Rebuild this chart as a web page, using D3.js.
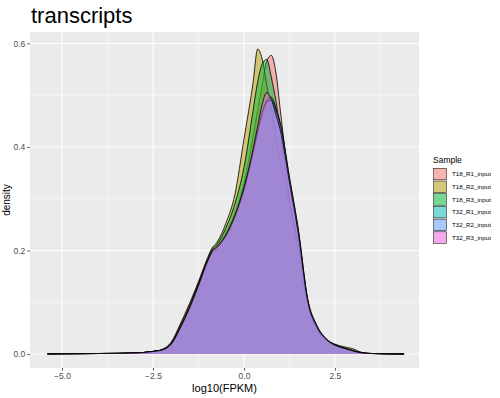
<!DOCTYPE html>
<html>
<head>
<meta charset="utf-8">
<script src="https://cdn.jsdelivr.net/npm/d3@7"></script>
<style>
  html, body { margin: 0; padding: 0; background: #ffffff; }
  svg { display: block; }
  text { font-family: "Liberation Sans", Arial, Helvetica, sans-serif; }
</style>
</head>
<body>
<svg id="chart" width="500" height="398"></svg>
<script>
// ---- data ----
const sampleNames = ["T18_R1_input", "T18_R2_input", "T18_R3_input", "T32_R1_input", "T32_R2_input", "T32_R3_input"];
const sampleColors = ["#F8766D", "#B79F00", "#00BA38", "#00BFC4", "#619CFF", "#F564E3"];

const xGrid = [-5.4, -5, -4.5, -4, -3.5, -3, -2.75, -2.5, -2.25, -2, -1.75, -1.5, -1.25, -1, -0.875, -0.75, -0.5, -0.25,
  0, 0.25, 0.375, 0.5, 0.625, 0.75, 0.875, 1, 1.25, 1.5, 1.75, 2, 2.25, 2.5, 2.75, 3, 3.25, 3.5, 4, 4.4];

const densT18R1 = [0.0003, 0.0005, 0.0007, 0.001, 0.0013, 0.002, 0.003, 0.005, 0.008, 0.020,
  0.052, 0.090, 0.134, 0.180, 0.198, 0.207, 0.232, 0.272,
  0.33, 0.42, 0.47, 0.52, 0.565, 0.577, 0.545, 0.47,
  0.325, 0.228, 0.100, 0.050, 0.027, 0.017, 0.011, 0.006, 0.002, 0.001, 0.0004, 0.0002];
const densT18R2 = [0.0003, 0.0005, 0.0007, 0.001, 0.0013, 0.002, 0.003, 0.005, 0.009, 0.023,
  0.058, 0.097, 0.140, 0.186, 0.205, 0.215, 0.252, 0.308,
  0.415, 0.524, 0.589, 0.570, 0.52, 0.47, 0.42, 0.37,
  0.29, 0.20, 0.095, 0.048, 0.028, 0.019, 0.014, 0.010, 0.003, 0.001, 0.0004, 0.0002];
const densT18R3 = [0.0003, 0.0005, 0.0007, 0.001, 0.0013, 0.002, 0.003, 0.005, 0.008, 0.021,
  0.055, 0.093, 0.137, 0.183, 0.202, 0.211, 0.243, 0.29,
  0.36, 0.47, 0.525, 0.56, 0.569, 0.535, 0.49, 0.43,
  0.30, 0.21, 0.097, 0.049, 0.027, 0.017, 0.012, 0.007, 0.002, 0.001, 0.0004, 0.0002];
const densT32R1 = [0.0003, 0.0005, 0.0007, 0.001, 0.0013, 0.002, 0.003, 0.005, 0.008, 0.019,
  0.050, 0.087, 0.131, 0.178, 0.196, 0.204, 0.227, 0.264,
  0.316, 0.388, 0.428, 0.464, 0.489, 0.496, 0.476, 0.446,
  0.340, 0.236, 0.106, 0.055, 0.030, 0.018, 0.011, 0.006, 0.002, 0.001, 0.0004, 0.0002];
const densT32R2 = [0.0003, 0.0005, 0.0007, 0.001, 0.0013, 0.002, 0.003, 0.005, 0.008, 0.019,
  0.050, 0.088, 0.132, 0.179, 0.197, 0.205, 0.228, 0.265,
  0.318, 0.390, 0.430, 0.466, 0.486, 0.491, 0.472, 0.443,
  0.342, 0.238, 0.107, 0.056, 0.030, 0.018, 0.011, 0.006, 0.002, 0.001, 0.0004, 0.0002];
const densT32R3 = [0.0003, 0.0005, 0.0007, 0.001, 0.0013, 0.002, 0.003, 0.005, 0.008, 0.019,
  0.051, 0.089, 0.133, 0.180, 0.199, 0.207, 0.230, 0.268,
  0.322, 0.396, 0.440, 0.482, 0.505, 0.492, 0.463, 0.432,
  0.332, 0.230, 0.103, 0.053, 0.029, 0.017, 0.011, 0.006, 0.002, 0.001, 0.0004, 0.0002];

const densities = [densT18R1, densT18R2, densT18R3, densT32R1, densT32R2, densT32R3];

const xTicks = [-5, -2.5, 0, 2.5];
const xTickLabels = ["\u22125.0", "\u22122.5", "0.0", "2.5"];
const xMinor = [-3.75, -1.25, 1.25, 3.75];
const yTicks = [0, 0.2, 0.4, 0.6];
const yTickLabels = ["0.0", "0.2", "0.4", "0.6"];
const yMinor = [0.1, 0.3, 0.5];

const titleText = "transcripts";
const xTitle = "log10(FPKM)";
const yTitle = "density";
const legendTitle = "Sample";

// ---- layout ----
const svg = d3.select("#chart");
const P = { left: 30, right: 419, top: 32, bottom: 368 };

const x = d3.scaleLinear().domain([-5.88, 4.81]).range([P.left, P.right]);
const y = d3.scaleLinear().domain([-0.027, 0.622]).range([P.bottom, P.top]);

// panel
svg.append("rect").attr("x", P.left).attr("y", P.top)
  .attr("width", P.right - P.left).attr("height", P.bottom - P.top).attr("fill", "#EBEBEB");

const grid = svg.append("g");
xMinor.forEach(v => grid.append("line").attr("x1", x(v)).attr("x2", x(v)).attr("y1", P.top).attr("y2", P.bottom)
  .attr("stroke", "#fff").attr("stroke-width", 0.5));
yMinor.forEach(v => grid.append("line").attr("y1", y(v)).attr("y2", y(v)).attr("x1", P.left).attr("x2", P.right)
  .attr("stroke", "#fff").attr("stroke-width", 0.5));
xTicks.forEach(v => grid.append("line").attr("x1", x(v)).attr("x2", x(v)).attr("y1", P.top).attr("y2", P.bottom)
  .attr("stroke", "#fff").attr("stroke-width", 1));
yTicks.forEach(v => grid.append("line").attr("y1", y(v)).attr("y2", y(v)).attr("x1", P.left).attr("x2", P.right)
  .attr("stroke", "#fff").attr("stroke-width", 1));

// densities
const area = d3.area().x(d => x(d[0])).y0(y(0)).y1(d => y(d[1])).curve(d3.curveMonotoneX);
const line = d3.line().x(d => x(d[0])).y(d => y(d[1])).curve(d3.curveMonotoneX);

const marks = svg.append("g");
densities.forEach((vals, i) => {
  const pts = xGrid.map((xv, j) => [xv, vals[j]]);
  marks.append("path").attr("d", area(pts)).attr("fill", sampleColors[i]).attr("fill-opacity", 0.5);
  marks.append("path").attr("d", line(pts)).attr("fill", "none").attr("stroke", "#000")
    .attr("stroke-width", 0.9).attr("stroke-opacity", 0.9);
});

// axes
const xAxis = d3.axisBottom(x).tickValues(xTicks).tickFormat((d, i) => xTickLabels[i]).tickSize(2.7).tickPadding(2);
const gx = svg.append("g").attr("transform", `translate(0,${P.bottom})`).call(xAxis);
gx.select(".domain").remove();
gx.selectAll(".tick line").attr("stroke", "#333").attr("stroke-width", 0.8);
gx.selectAll(".tick text").attr("fill", "#4D4D4D").attr("font-size", 8.5)
  .attr("font-family", '"Liberation Sans", Arial, sans-serif');

const yAxis = d3.axisLeft(y).tickValues(yTicks).tickFormat((d, i) => yTickLabels[i]).tickSize(2.7).tickPadding(2);
const gy = svg.append("g").attr("transform", `translate(${P.left},0)`).call(yAxis);
gy.select(".domain").remove();
gy.selectAll(".tick line").attr("stroke", "#333").attr("stroke-width", 0.8);
gy.selectAll(".tick text").attr("fill", "#4D4D4D").attr("font-size", 8.5)
  .attr("font-family", '"Liberation Sans", Arial, sans-serif');

// titles
svg.append("text").attr("x", 31).attr("y", 22.5).attr("font-size", 22).attr("fill", "#000").text(titleText);
svg.append("text").attr("x", (P.left + P.right) / 2).attr("y", 392).attr("text-anchor", "middle")
  .attr("font-size", 11).attr("fill", "#000").text(xTitle);
svg.append("text").attr("transform", `translate(10,${(P.top + P.bottom) / 2}) rotate(-90)`)
  .attr("text-anchor", "middle").attr("font-size", 10).attr("fill", "#000").text(yTitle);

// legend
const lg = svg.append("g");
lg.append("text").attr("x", 433).attr("y", 163).attr("font-size", 8.5).attr("fill", "#000").text(legendTitle);
sampleNames.forEach((name, i) => {
  const top = 168.3 + i * 12.7;
  lg.append("rect").attr("x", 433.5).attr("y", top).attr("width", 13).attr("height", 11.5)
    .attr("fill", "#F2F2F2");
  lg.append("rect").attr("x", 433.5).attr("y", top).attr("width", 13).attr("height", 11.5)
    .attr("fill", sampleColors[i]).attr("fill-opacity", 0.5).attr("stroke", "#000").attr("stroke-width", 0.5);
  lg.append("text").attr("x", 452).attr("y", top + 8).attr("font-size", 6.2).attr("fill", "#000").text(name);
});
</script>
</body>
</html>
